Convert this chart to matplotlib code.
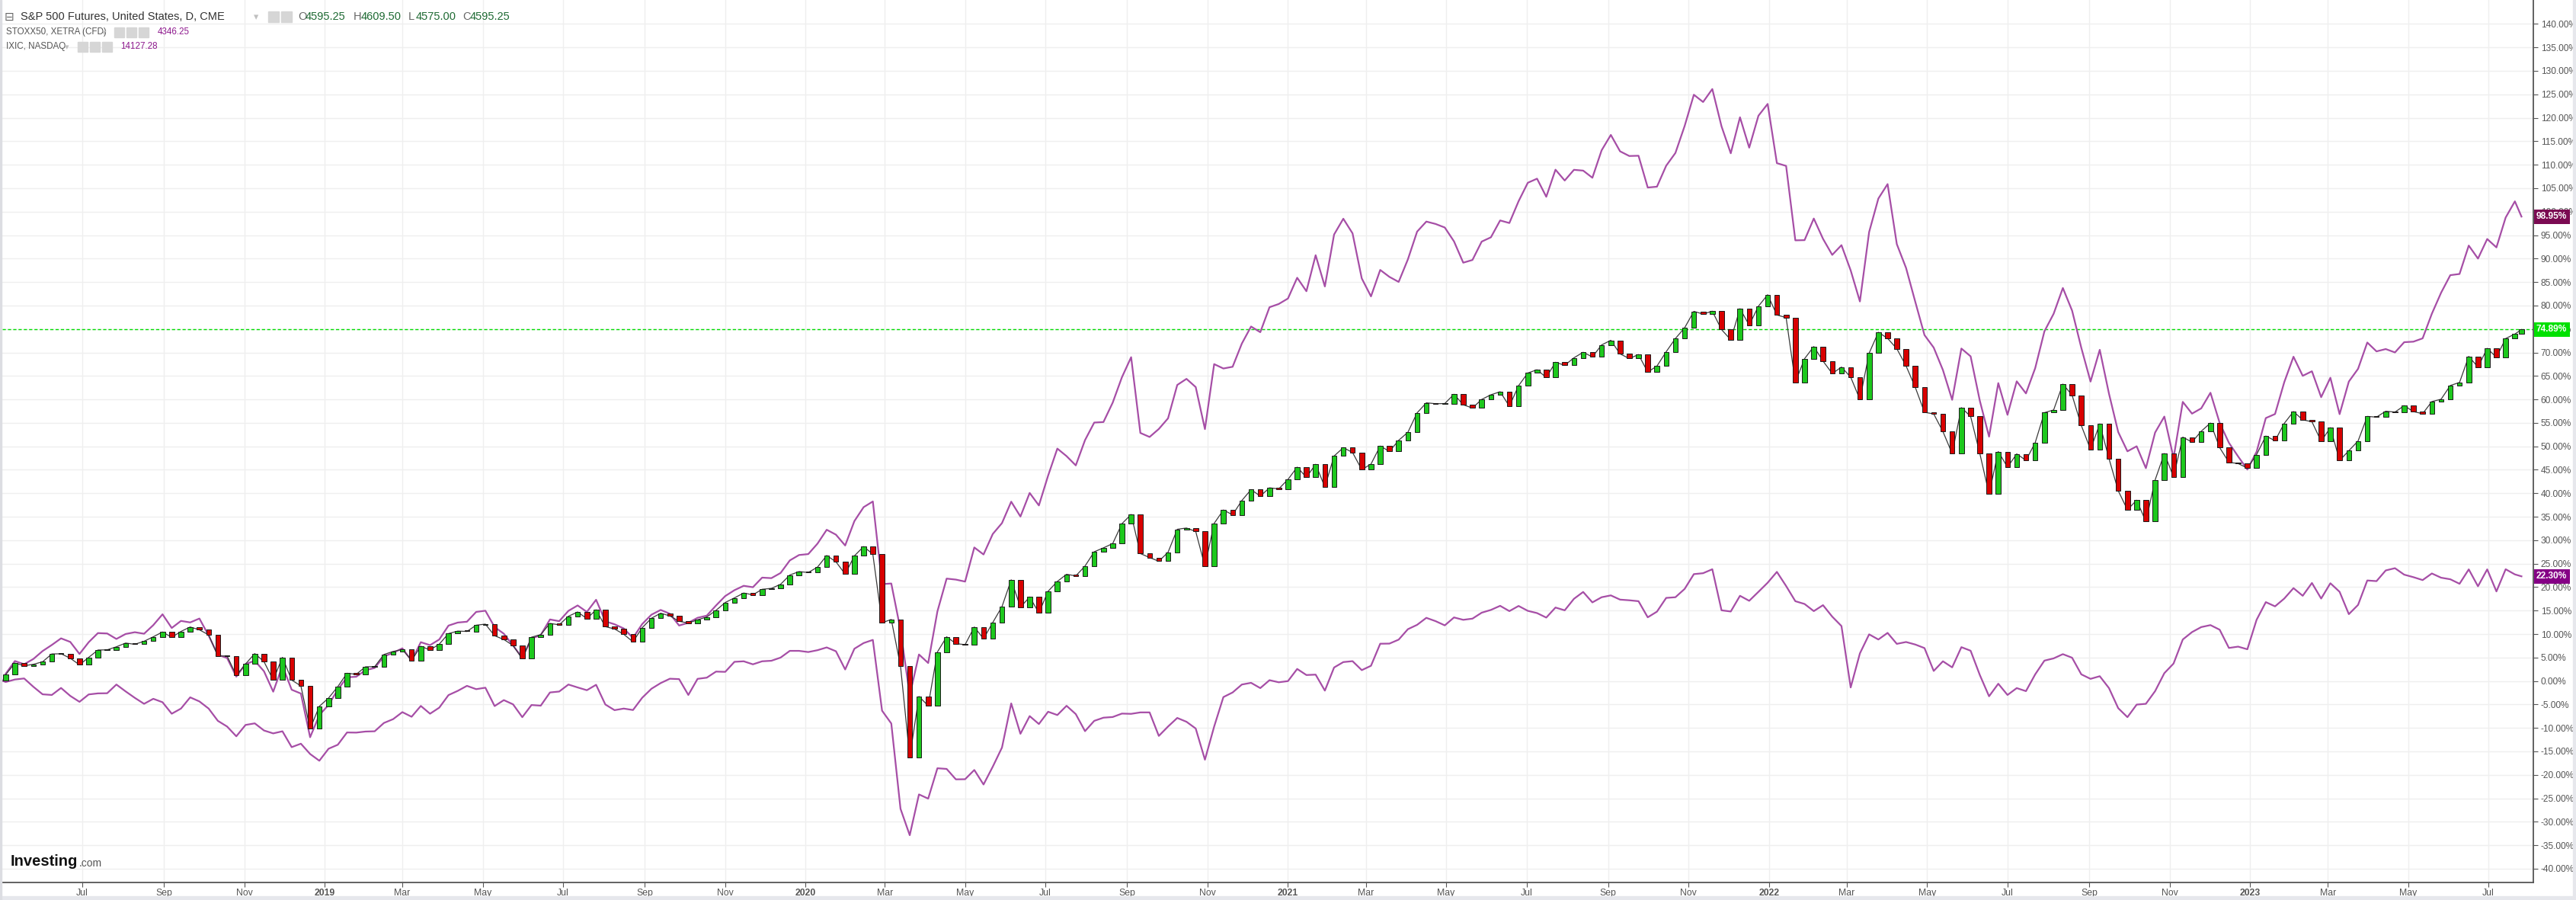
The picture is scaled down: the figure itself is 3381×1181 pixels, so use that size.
import matplotlib
matplotlib.use('Agg')
import matplotlib.pyplot as plt
import matplotlib.dates as mdates
import matplotlib.transforms as mtrans
from matplotlib import font_manager
from matplotlib.patches import Rectangle
import numpy as np
import pandas as pd

W, H = 3381, 1181

def pick_font(names):
    for n in names:
        try:
            font_manager.findfont(n, fallback_to_default=False)
            return n
        except Exception:
            pass
    return 'DejaVu Sans'

NARROW = pick_font(['Liberation Sans Narrow', 'Liberation Sans'])
ARIAL = pick_font(['Liberation Sans', 'DejaVu Sans'])

# weekly points: first bar, every Friday, last bar
dates = ([pd.Timestamp('2018-05-02')]
         + list(pd.date_range('2018-05-04', '2023-07-21', freq='W-FRI'))
         + [pd.Timestamp('2023-07-26')])

sp_base = 2627.6
stoxx_base = 3553.8
ixic_base = 7100.9

sp_close = [
    2630,
    2663, 2728, 2713, 2721, 2735, 2779, 2780, 2755, 2718, 2760, 2801, 2802, 2819, 2840, 2833, 2850, 2875, 2902,
    2872, 2905, 2930, 2914, 2886, 2767, 2768, 2658, 2723, 2781, 2736, 2633, 2760, 2633, 2600, 2360, 2486,
    2532, 2596, 2671, 2665, 2707, 2708, 2776, 2793, 2804, 2743, 2822, 2801, 2834, 2893, 2907, 2905, 2940, 2946,
    2881, 2860, 2826, 2752, 2873, 2887, 2950, 2942, 2990, 3014, 2977, 3026, 2932, 2919, 2889, 2847, 2926, 2979,
    3007, 2992, 2962, 2952, 2970, 2986, 3023, 3067, 3093, 3120, 3110, 3141, 3146, 3169, 3221, 3240,
    3235, 3265, 3330, 3295, 3226, 3328, 3380, 3338, 2954, 2972, 2711, 2200, 2541, 2489, 2790, 2875, 2837, 2831,
    2930, 2864, 2955, 3044, 3194, 3041, 3098, 3009, 3130, 3185, 3225, 3216, 3271, 3351, 3373, 3397, 3508, 3560,
    3341, 3319, 3298, 3348, 3477, 3484, 3465, 3270, 3510, 3585, 3558, 3638, 3699, 3663, 3709, 3703, 3756,
    3825, 3768, 3841, 3714, 3887, 3934, 3907, 3811, 3842, 3943, 3913, 3975, 4020, 4129, 4185, 4180, 4181, 4233,
    4174, 4156, 4204, 4230, 4247, 4166, 4281, 4352, 4370, 4327, 4412, 4395, 4437, 4468, 4442, 4509, 4535, 4459,
    4433, 4455, 4357, 4391, 4471, 4545, 4605, 4697, 4682, 4698, 4595, 4538, 4712, 4620, 4726, 4790,
    4677, 4662, 4300, 4432, 4500, 4419, 4349, 4385, 4329, 4204, 4463, 4580, 4546, 4488, 4392, 4272, 4132, 4123,
    4024, 3901, 4158, 4109, 3901, 3675, 3912, 3825, 3899, 3863, 3962, 4130, 4145, 4290, 4228, 4058, 3924, 4067,
    3873, 3693, 3586, 3640, 3520, 3753, 3901, 3771, 3993, 3965, 4026, 4072, 3934, 3852, 3845, 3820,
    3895, 3999, 3973, 4070, 4136, 4090, 4079, 3970, 4046, 3862, 3917, 3971, 4109, 4105, 4138, 4133, 4169, 4136,
    4124, 4192, 4205, 4282, 4299, 4445, 4385, 4490, 4440, 4545, 4570, 4595.25,
]

stoxx_close = [
    3553.8,
    3546, 3565, 3573, 3510, 3453, 3448, 3501, 3441, 3396, 3452, 3460, 3461, 3527, 3475, 3426, 3381, 3419, 3393,
    3306, 3345, 3430, 3399, 3345, 3252, 3209, 3135, 3221, 3233, 3179, 3157, 3173, 3053, 3079, 3001, 2950,
    3041, 3071, 3164, 3163, 3171, 3173, 3236, 3265, 3318, 3283, 3365, 3306, 3352, 3447, 3479, 3517, 3492, 3503,
    3364, 3409, 3377, 3280, 3372, 3367, 3467, 3474, 3527, 3505, 3484, 3525, 3376, 3333, 3345, 3334, 3427, 3495,
    3538, 3571, 3568, 3448, 3570, 3579, 3625, 3623, 3699, 3703, 3680, 3703, 3707, 3731, 3782, 3782,
    3773, 3787, 3808, 3779, 3641, 3798, 3841, 3865, 3329, 3232, 2586, 2386, 2695, 2663, 2893, 2888, 2809, 2810,
    2880, 2770, 2905, 3050, 3384, 3154, 3288, 3228, 3321, 3296, 3366, 3303, 3174, 3252, 3276, 3281, 3307, 3305,
    3316, 3316, 3138, 3209, 3274, 3245, 3194, 2958, 3209, 3432, 3467, 3527, 3540, 3500, 3560, 3544, 3553,
    3645, 3599, 3602, 3481, 3656, 3697, 3704, 3636, 3669, 3836, 3837, 3867, 3946, 3979, 4032, 4007, 3975, 4035,
    4017, 4026, 4071, 4092, 4123, 4083, 4122, 4085, 4068, 4034, 4110, 4089, 4176, 4228, 4149, 4188, 4202, 4170,
    4165, 4158, 4036, 4079, 4183, 4188, 4251, 4363, 4370, 4400, 4089, 4080, 4199, 4161, 4229, 4298,
    4380, 4273, 4158, 4137, 4083, 4128, 4041, 3970, 3505, 3763, 3907, 3868, 3918, 3835, 3849, 3830, 3803, 3630,
    3703, 3657, 3810, 3783, 3599, 3438, 3533, 3448, 3500, 3477, 3604, 3708, 3725, 3757, 3730, 3604, 3570, 3590,
    3500, 3348, 3280, 3375, 3381, 3477, 3613, 3686, 3868, 3924, 3962, 3977, 3942, 3804, 3814, 3794,
    4017, 4151, 4119, 4178, 4257, 4199, 4296, 4178, 4294, 4229, 4060, 4130, 4315, 4310, 4391, 4408, 4359, 4340,
    4318, 4368, 4336, 4324, 4290, 4399, 4271, 4399, 4232, 4400, 4361, 4346.25,
]

ixic_close = [
    7100.9,
    7210, 7403, 7354, 7434, 7554, 7646, 7746, 7692, 7510, 7688, 7826, 7820, 7737, 7812, 7839, 7816, 7946, 8110,
    7903, 8010, 7987, 8046, 7788, 7497, 7449, 7167, 7357, 7407, 7248, 6939, 7331, 6969, 6911, 6250, 6585,
    6739, 6971, 7157, 7165, 7264, 7298, 7472, 7528, 7595, 7408, 7688, 7643, 7729, 7939, 7985, 7998, 8146, 8164,
    7917, 7816, 7637, 7453, 7742, 7797, 8032, 8006, 8162, 8244, 8146, 8330, 8004, 7959, 7896, 7752, 7963, 8104,
    8176, 8118, 7940, 7982, 8057, 8090, 8243, 8386, 8475, 8541, 8520, 8665, 8657, 8735, 8925, 9007,
    9021, 9179, 9389, 9315, 9151, 9520, 9731, 9817, 8567, 8576, 7875, 6880, 7502, 7373, 8154, 8650, 8635, 8605,
    9121, 9015, 9325, 9490, 9814, 9589, 9946, 9757, 10208, 10617, 10503, 10363, 10745, 11011, 11019, 11312, 11696,
    12000, 10854, 10793, 10914, 11075, 11580, 11672, 11548, 10912, 11895, 11829, 11855, 12206, 12464, 12378,
    12756, 12805, 12888,
    13202, 12998, 13543, 13070, 13856, 14095, 13874, 13192, 12920, 13320, 13215, 13139, 13480, 13900, 14052,
    14016, 13962, 13752, 13430, 13471, 13749, 13814, 14069, 14030, 14360, 14639, 14701, 14427, 14837, 14673,
    14835, 14823, 14715, 15130, 15363, 15115, 15044, 15048, 14567, 14580, 14897, 15090, 15498, 15971, 15861,
    16057, 15492, 15085, 15630, 15170, 15653, 15832,
    14936, 14894, 13768, 13771, 14098, 13791, 13548, 13695, 13313, 12843, 13894, 14400, 14619, 13711, 13351,
    12839, 12335, 12145, 11805, 11355, 12131, 12013, 11340, 10798, 11608, 11128, 11635, 11452, 11834, 12391,
    12657, 13047, 12705, 12142, 11631, 12112, 11448, 10868, 10576, 10652, 10321, 10860, 11102, 10475, 11324,
    11146, 11226, 11462, 11005, 10705, 10498, 10300,
    10569, 11079, 11140, 11622, 12007, 11718, 11787, 11395, 11689, 11138, 11631, 11824, 12222, 12088, 12123,
    12072, 12227, 12235, 12285, 12658, 12975, 13241, 13259, 13689, 13492, 13788, 13661, 14113, 14358, 14127.28,
]

y_ticks = list(range(-40, 145, 5))
x_ticks = pd.date_range('2018-07-01', '2023-07-01', freq='2MS')
x_labels = [str(d.year) if d.month == 1 else d.strftime('%b') for d in x_ticks]

last_badges = [  # value, background
    (98.95, '#7b0a52'),
    (74.89, '#00e000'),
    (22.30, '#850085'),
]

sp = (np.array(sp_close) / sp_base - 1) * 100
stoxx = (np.array(stoxx_close) / stoxx_base - 1) * 100
ixic = (np.array(ixic_close) / ixic_base - 1) * 100
dnum = mdates.date2num(dates)

fig = plt.figure(figsize=(W / 100, H / 100), dpi=100)
fig.patch.set_facecolor('white')
# frame strips of the widget
fig.patches.append(Rectangle((3377 / W, 0), 1, 1, transform=fig.transFigure, color='#e6e7ec', zorder=0))
fig.patches.append(Rectangle((0, 0), 1, 5 / H, transform=fig.transFigure, color='#e6e7ec', zorder=0))
fig.patches.append(Rectangle((0, 0), 2 / W, 1, transform=fig.transFigure, color='#dcdde2', zorder=0))

ax = fig.add_axes([3 / W, 23 / H, 3322 / W, 1158 / H])
ax.set_facecolor('none')
ax.set_ylim(-42.93, 145.1)
ax.set_xlim(mdates.date2num(pd.Timestamp('2018-05-01 10:00')), mdates.date2num(pd.Timestamp('2023-08-04')))

ax.grid(True, color='#efefef', lw=1.0, zorder=0)
ax.set_axisbelow(True)

ax.plot(dnum, stoxx, color='#a64ea6', lw=1.6, zorder=2, solid_joinstyle='round')
ax.plot(dnum, ixic, color='#a64ea6', lw=1.6, zorder=2, solid_joinstyle='round')

# weekly candles: open = previous close, thin dark line for the wicks
opens = sp[:-1]
closes = sp[1:]
ax.plot(dnum, sp, color='#3a3a3a', lw=0.9, zorder=2.5)
cols = ['#1dc81d' if c >= o else '#d80000' for o, c in zip(opens, closes)]
hgt = closes - opens
hgt = np.where(np.abs(hgt) < 0.15, 0.15, hgt)
ax.bar(dnum[1:], hgt, bottom=opens, width=3.8, color=cols, edgecolor='#1a1a1a',
       linewidth=0.7, zorder=3)

ax.axhline(74.89, color='#00dd00', lw=1.0, ls=(0, (3, 2)), zorder=1.5)

# axes styling
for s in ['top', 'left']:
    ax.spines[s].set_visible(False)
ax.spines['right'].set_color('#555555')
ax.spines['bottom'].set_color('#555555')
ax.spines['right'].set_linewidth(1.3)
ax.spines['bottom'].set_linewidth(1.3)

ax.yaxis.tick_right()
ax.set_yticks(y_ticks)
ax.set_yticklabels([f'{v:.2f}%' for v in y_ticks], fontsize=8.6, color='#555555', family=ARIAL)
ax.tick_params(axis='y', length=4, color='#555555', pad=3)
ax.set_xticks(mdates.date2num(x_ticks))
ax.set_xticklabels(x_labels, fontsize=8.8, color='#555555', family=NARROW)
for lab, d in zip(ax.get_xticklabels(), x_ticks):
    if d.month == 1:
        lab.set_fontweight('bold')
ax.tick_params(axis='x', length=4, color='#555555', pad=2)

tr = mtrans.blended_transform_factory(ax.transAxes, ax.transData)
for val, bg in last_badges:
    ax.text(1.0012, val, f'{val:.2f}%', transform=tr, ha='left', va='center', fontsize=8.6,
            fontweight='bold', color='white', family=ARIAL, zorder=10, clip_on=False,
            bbox=dict(boxstyle='square,pad=0.28', fc=bg, ec='none'))

# header legend
def ftext(px, py, s, **kw):
    fig.text(px / W, 1 - py / H, s, va='center', ha='left', **kw)

def icon(px, py, size=14):
    fig.patches.append(Rectangle((px / W, 1 - (py + size / 2) / H), size / W, size / H,
                                 transform=fig.transFigure, color='#d6d6d6', zorder=5))

ftext(6, 22, '\u229f', fontsize=11, color='#666666', family='DejaVu Sans')
ftext(27, 22, 'S&P 500 Futures, United States, D, CME', fontsize=10.5, color='#333333', family=ARIAL)
ftext(333, 23, '\u25be', fontsize=9, color='#c0c0c0', family='DejaVu Sans')
icon(352, 22)
icon(369, 22)
for lx, letter, num in [(391, 'O', '4595.25'), (464, 'H', '4609.50'), (536, 'L', '4575.00'), (607, 'C', '4595.25')]:
    ftext(lx, 22, letter, fontsize=10.5, color='#666666', family=ARIAL)
    ftext(lx + 10, 22, num, fontsize=10.5, color='#1f6b34', family=ARIAL)

ftext(8, 42, 'STOXX50, XETRA (CFD)', fontsize=8.4, color='#555555', family=ARIAL)
ftext(134, 43, '\u25be', fontsize=8, color='#c0c0c0', family='DejaVu Sans')
icon(150, 42, 13)
icon(166, 42, 13)
icon(182, 42, 13)
ftext(207, 42, '4346.25', fontsize=8.4, color='#8e1a8e', family=ARIAL)

ftext(8, 61, 'IXIC, NASDAQ', fontsize=8.4, color='#555555', family=ARIAL)
ftext(85, 62, '\u25be', fontsize=8, color='#c0c0c0', family='DejaVu Sans')
icon(102, 61, 13)
icon(118, 61, 13)
icon(134, 61, 13)
ftext(158, 61, '14127.28', fontsize=8.4, color='#8e1a8e', family=ARIAL)

# logo
ftext(14, 1130, 'Investing', fontsize=14.5, fontweight='bold', color='#111111', family=NARROW)
ftext(104, 1133, '.com', fontsize=10, color='#555555', family=NARROW)

fig.savefig('out.png', dpi=100, facecolor='white')
